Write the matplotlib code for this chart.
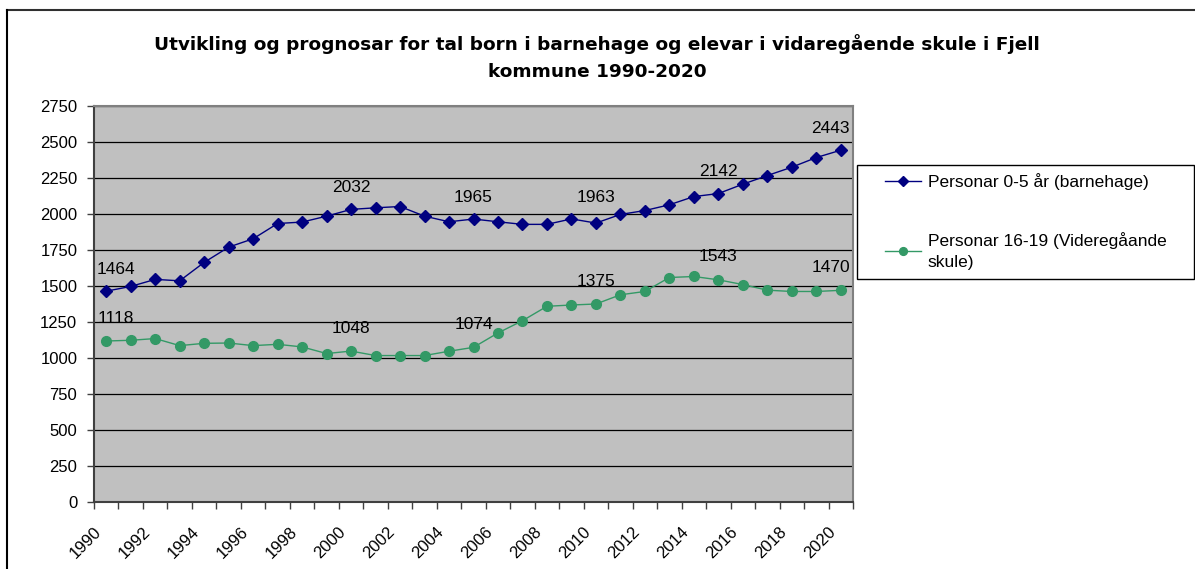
import numpy as np
import matplotlib
matplotlib.use('Agg')
import matplotlib.pyplot as plt
from matplotlib.lines import Line2D
from matplotlib.patches import Rectangle
from matplotlib.transforms import ScaledTranslation

plt.rcParams['font.family'] = ['Liberation Sans', 'DejaVu Sans']

years = list(range(1990, 2021))
barnehage = [1464, 1497, 1546, 1536, 1664, 1770, 1828, 1934, 1944, 1985,
             2032, 2043, 2052, 1985, 1946, 1965, 1946, 1928, 1928, 1966,
             1937, 1997, 2024, 2064, 2121, 2142, 2207, 2267, 2325, 2392, 2443]
vgs = [1118, 1123, 1135, 1086, 1102, 1104, 1086, 1095, 1077, 1031,
       1048, 1017, 1017, 1017, 1047, 1074, 1174, 1259, 1359, 1368,
       1375, 1439, 1462, 1559, 1566, 1543, 1510, 1471, 1462, 1462, 1470]

# data labels shown in the chart (year index, text)
label_idx = [0, 10, 15, 20, 25, 30]
barnehage_labels = ['1464', '2032', '1965', '1963', '2142', '2443']
vgs_labels = ['1118', '1048', '1074', '1375', '1543', '1470']

series_names = ['Personar 0-5 år (barnehage)', 'Personar 16-19 (Videregåande\nskule)']
title = 'Utvikling og prognosar for tal born i barnehage og elevar i vidaregående skule i Fjell\nkommune 1990-2020'

W, H = 1195, 569
fig = plt.figure(figsize=(W / 100, H / 100), dpi=100)
ax = fig.add_axes([94 / W, 1 - 502 / H, (853 - 94) / W, (502 - 106) / H])
ax.set_facecolor('#C0C0C0')

x = np.arange(len(years))
ax.plot(x, barnehage, color='#000080', marker='D', markersize=6, lw=1.0, label=series_names[0])
ax.plot(x, vgs, color='#339966', marker='o', markersize=7, lw=1.0, label=series_names[1])

for i, txt in zip(label_idx, barnehage_labels):
    dx = 10 if i == 0 else (-10 if i == len(years) - 1 else 0)
    ax.annotate(txt, (i, float(txt)), xytext=(dx, 22), textcoords='offset pixels',
                ha='center', va='center', fontsize=12.5)
for i, txt in zip(label_idx, vgs_labels):
    dx = 10 if i == 0 else (-10 if i == len(years) - 1 else 0)
    ax.annotate(txt, (i, float(txt)), xytext=(dx, 23), textcoords='offset pixels',
                ha='center', va='center', fontsize=12.5)

ax.set_xlim(-0.5, len(years) - 0.5)
ax.set_ylim(0, 2750)
ax.set_yticks(np.arange(0, 2751, 250))
ax.yaxis.grid(True, color='black', lw=0.9)
ax.set_axisbelow(True)

ax.set_xticks(x[::2])
ax.set_xticklabels([str(y) for y in years[::2]], rotation=45, ha='right', va='top',
                   rotation_mode='anchor', fontsize=12)
ax.set_xticks(np.arange(-0.5, len(years), 1), minor=True)
ax.tick_params(axis='x', which='major', length=0, pad=16)
ax.tick_params(axis='x', which='minor', length=5, width=1, color='#404040', direction='out')
ax.tick_params(axis='y', length=5, width=1, color='#404040', labelsize=12, pad=7)
shift = ScaledTranslation(-13 / 100, 0, fig.dpi_scale_trans)
for lab in ax.get_xticklabels():
    lab.set_transform(lab.get_transform() + shift)

for s in ['left', 'bottom']:
    ax.spines[s].set_color('#404040')
    ax.spines[s].set_linewidth(1.5)
for s in ['top', 'right']:
    ax.spines[s].set_color('#808080')
    ax.spines[s].set_linewidth(1.5)

fig.text(0.4996, 1 - 57.5 / H, title, ha='center', va='center', fontsize=13.3,
         fontweight='bold', family='DejaVu Sans', linespacing=1.65)

# legend box
fig.patches.append(Rectangle((857 / W, 1 - 279 / H), (1194 - 857) / W, (279 - 165) / H,
                             transform=fig.transFigure, fill=False, edgecolor='black', lw=1))
leg = fig.legend(loc='upper left', bbox_to_anchor=(885 / W, 1 - 173 / H), frameon=False,
                 fontsize=12.5, handlelength=2.1, handletextpad=0.35, labelspacing=2.4,
                 borderpad=0, borderaxespad=0, markerscale=0.8)
for t in leg.get_texts():
    t.set_linespacing(1.55)

# outer chart border (top and left)
fig.add_artist(Line2D([7 / W, 1], [1 - 10 / H, 1 - 10 / H], transform=fig.transFigure,
                      color='#303030', lw=1.5))
fig.add_artist(Line2D([7 / W, 7 / W], [0, 1 - 10 / H], transform=fig.transFigure,
                      color='black', lw=1.5))

fig.savefig('out.png', dpi=100)
